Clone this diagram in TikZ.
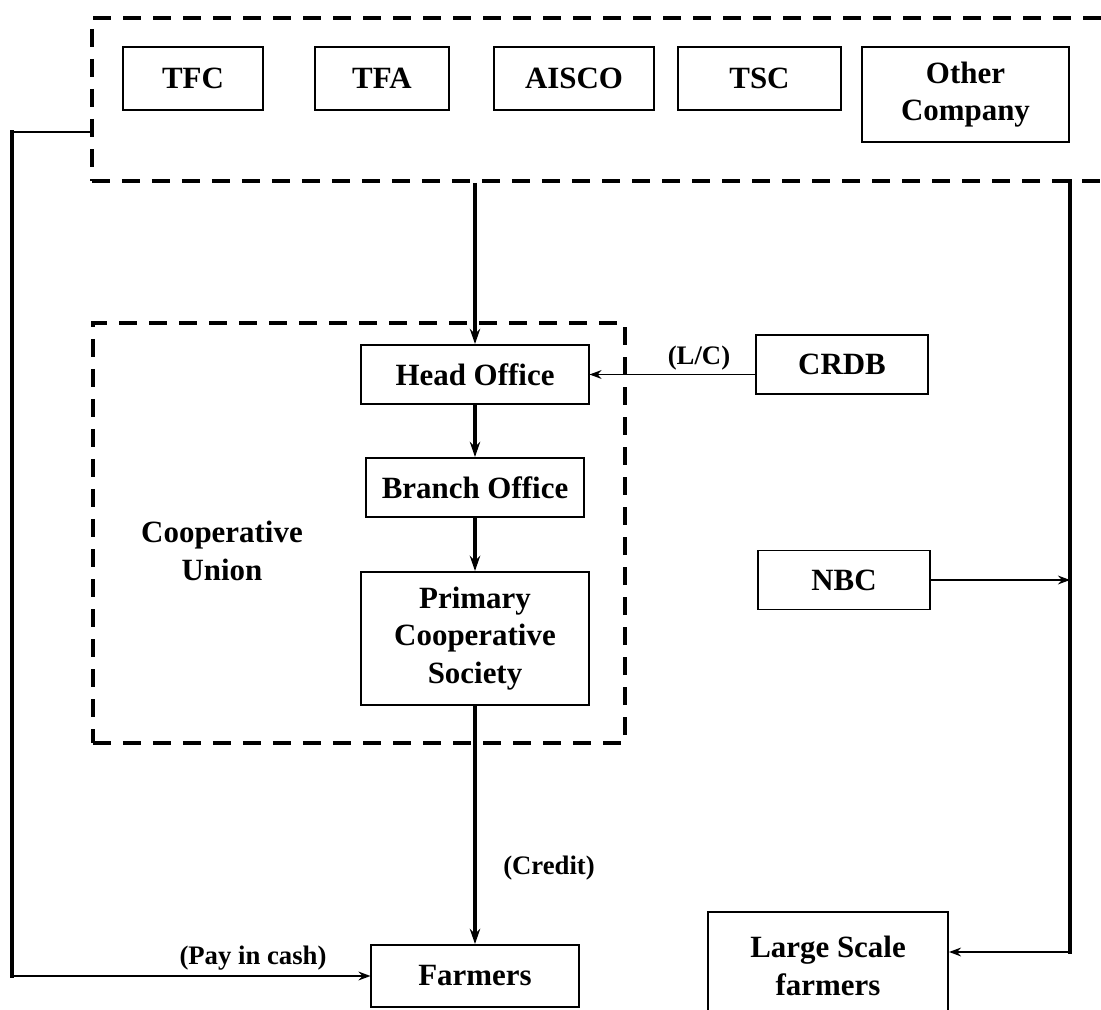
\documentclass[tikz,border=0pt]{standalone}
\usepackage{fontspec}
\setmainfont{Liberation Serif}
\usetikzlibrary{arrows.meta}

\begin{document}
\begin{tikzpicture}[
  x=0.025cm, y=-0.025cm,
  font=\fontsize{22}{26.5}\selectfont\bfseries,
  box/.style={draw, line width=1.4pt, align=center, inner sep=0pt, minimum height=1.475cm},
  group/.style={draw, line width=2.6pt, dash pattern=on 0.45cm off 0.3cm, inner sep=0pt},
  lbl/.style={inner sep=0pt, font=\fontsize{19}{23}\selectfont\bfseries},
  arrow/.style={-{Stealth[length=0.38cm, width=0.26cm]}, line width=2.6pt},
  thinarrow/.style={-{Stealth[length=0.3cm, width=0.22cm]}, line width=1.3pt},
  link/.style={line width=2.6pt, line cap=rect},
  thinlink/.style={line width=1.3pt}
]
\useasboundingbox (0,0) rectangle (1101,1010);
\clip (0,0) rectangle (1101,1010);

% suppliers
\node[box, minimum width=3.5cm, minimum height=1.575cm] (tfc) at (193,78.5) {TFC};
\node[box, minimum width=3.35cm, minimum height=1.575cm] (tfa) at (382,78.5) {TFA};
\node[box, minimum width=4cm, minimum height=1.575cm] (aisco) at (574,78.5) {AISCO};
\node[box, minimum width=4.075cm, minimum height=1.575cm] (tsc) at (759.5,78.5) {TSC};
\node[box, minimum width=5.175cm, minimum height=2.375cm] (other) at (965.5,94.5) {Other\\Company};
\node[group, minimum width=25.95cm, minimum height=4.075cm] (suppliers) at (611,99.5) {};

% cooperative union
\node[group, minimum width=13.3cm, minimum height=10.5cm] (union) at (359,533) {};
\node[lbl, align=center, font=\fontsize{22}{26.5}\selectfont\bfseries] (unionlbl) at (222,551) {Cooperative\\Union};
\node[box, minimum width=5.675cm] (head) at (475,374.5) {Head Office};
\node[box, minimum width=5.45cm] (branch) at (475,487.5) {Branch Office};
\node[box, minimum width=5.7cm, minimum height=3.325cm] (primary) at (475,638.5) {Primary\\Cooperative\\Society};

% banks and farmers
\node[box, minimum width=4.275cm] (crdb) at (842,364.5) {CRDB};
\node[box, minimum width=4.3cm] (nbc) at (844,580) {NBC};
\node[box, minimum width=5.175cm, minimum height=1.55cm] (farmers) at (475,976) {Farmers};
\node[box, minimum width=6cm, minimum height=2.7cm] (large) at (828,966) {Large Scale\\farmers};

\node[lbl] (lc) at (699,358) {(L/C)};
\node[lbl] (credit) at (549,868) {(Credit)};
\node[lbl] (cash) at (253,958) {(Pay in cash)};

\coordinate (ltop) at (12,132);
\coordinate (rtop) at (1070,181);
\coordinate (rbot) at (1070,952);

% flows
\draw[arrow] (suppliers.south -| head.north) -- (head.north);
\draw[arrow] (head) -- (branch);
\draw[arrow] (branch) -- (primary);
\draw[arrow] (primary) -- (farmers);
\draw[thinarrow] (crdb.west |- head.east) -- (head.east);
\draw[thinarrow] (nbc.east) -- (nbc.east -| rtop);
\draw[link] (rtop) -- (rbot);
\draw[thinarrow] (rbot) -- (rbot -| large.east);
\draw[thinlink] (suppliers.west |- ltop) -- (ltop);
\draw[link] (ltop) -- (ltop |- farmers.west);
\draw[thinarrow] (ltop |- farmers.west) -- (farmers.west);
\end{tikzpicture}
\end{document}
